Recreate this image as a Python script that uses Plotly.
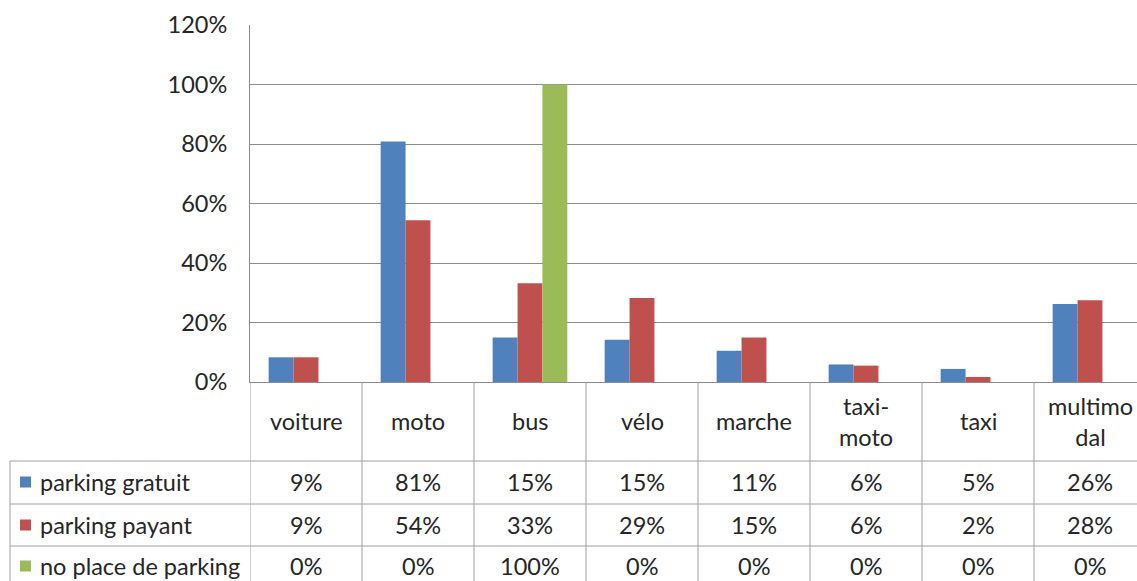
import plotly.graph_objects as go

categories = ["voiture", "moto", "bus", "vélo", "marche", "taxi-moto", "taxi", "multimodal"]
cat_labels = ["voiture", "moto", "bus", "vélo", "marche", "taxi-<br>moto", "taxi", "multimo<br>dal"]
series_names = ["parking gratuit", "parking payant", "no place de parking"]
gratuit = [0.083, 0.808, 0.150, 0.142, 0.105, 0.059, 0.044, 0.262]
payant = [0.083, 0.544, 0.332, 0.282, 0.150, 0.055, 0.017, 0.275]
no_place = [0.0, 0.0, 1.0, 0.0, 0.0, 0.0, 0.0, 0.0]
table_gratuit = ["9%", "81%", "15%", "15%", "11%", "6%", "5%", "26%"]
table_payant = ["9%", "54%", "33%", "29%", "15%", "6%", "2%", "28%"]
table_no_place = ["0%", "0%", "100%", "0%", "0%", "0%", "0%", "0%"]
y_ticks = [0, 0.2, 0.4, 0.6, 0.8, 1.0, 1.2]

colors = ["#4F81BD", "#C0504D", "#9BBB59"]
FONT = "Lato, Carlito, Calibri, sans-serif"
TXT = "#262626"
FS = 23.5
W, H = 1137, 581
ML, MT, MB = 250, 25, 199
PW = W - ML
PH = H - MT - MB

def px_x(p):
    return (p - ML) / PW

def px_y(p):
    return (H - MB - p) / PH

fig = go.Figure()
for name, vals, col in zip(series_names, [gratuit, payant, no_place], colors):
    fig.add_trace(go.Bar(x=categories, y=vals, name=name, marker=dict(color=col, line=dict(width=0))))

fig.update_layout(
    width=W, height=H,
    margin=dict(l=ML, r=0, t=MT, b=MB, pad=0),
    paper_bgcolor="white", plot_bgcolor="white",
    barmode="group", bargap=1.5 / 4.5, bargroupgap=0,
    showlegend=False,
    font=dict(family=FONT, size=FS, color=TXT),
    yaxis=dict(range=[0, 1.2], tickvals=y_ticks, tickformat=".0%", showgrid=True,
               gridcolor="#8c8c8c", gridwidth=1, zeroline=False, showline=True,
               linecolor="#8c8c8c", linewidth=1, ticks="", ticklabelstandoff=17,
               tickfont=dict(size=FS, color=TXT)),
    xaxis=dict(range=[-0.5, 7.5 - 9 / 112], showticklabels=False, showgrid=False,
               zeroline=False, showline=True, linecolor="#8c8c8c", linewidth=1, ticks=""),
)

LC = "#a0a0a0"
shapes = []
rows_px = [461, 504, 546]
for r in rows_px:
    shapes.append(dict(type="line", xref="paper", yref="paper", x0=px_x(10), x1=1.02,
                       y0=px_y(r), y1=px_y(r), line=dict(color=LC, width=1)))
for k in range(len(categories) + 1):
    shapes.append(dict(type="line", xref="x", yref="paper", x0=k - 0.5, x1=k - 0.5,
                       y0=0, y1=px_y(600), line=dict(color=LC, width=1)))
shapes.append(dict(type="line", xref="paper", yref="paper", x0=px_x(10), x1=px_x(10),
                   y0=px_y(461), y1=px_y(600), line=dict(color=LC, width=1)))
row_centers = [482, 525, 566]
for rc, col in zip(row_centers, colors):
    shapes.append(dict(type="rect", xref="paper", yref="paper", x0=px_x(20), x1=px_x(31),
                       y0=px_y(rc + 5.5), y1=px_y(rc - 5.5), fillcolor=col, line=dict(width=0)))
fig.update_layout(shapes=shapes)

ann = []
for i, lab in enumerate(cat_labels):
    ann.append(dict(x=i, y=px_y(421), xref="x", yref="paper", text=lab, showarrow=False,
                    xanchor="center", yanchor="middle", font=dict(size=FS, color=TXT)))
for rc, name, vals in zip(row_centers, series_names, [table_gratuit, table_payant, table_no_place]):
    ann.append(dict(x=px_x(38), y=px_y(rc), xref="paper", yref="paper",
                    text=name, showarrow=False,
                    xanchor="left", yanchor="middle", font=dict(size=FS, color=TXT)))
    for i, v in enumerate(vals):
        ann.append(dict(x=i, y=px_y(rc), xref="x", yref="paper", text=v, showarrow=False,
                        xanchor="center", yanchor="middle", font=dict(size=FS, color=TXT)))
fig.update_layout(annotations=ann)

fig.write_html("out.html", config={"displayModeBar": False},
               post_script="document.body.style.margin='0';document.body.style.overflow='hidden';")
